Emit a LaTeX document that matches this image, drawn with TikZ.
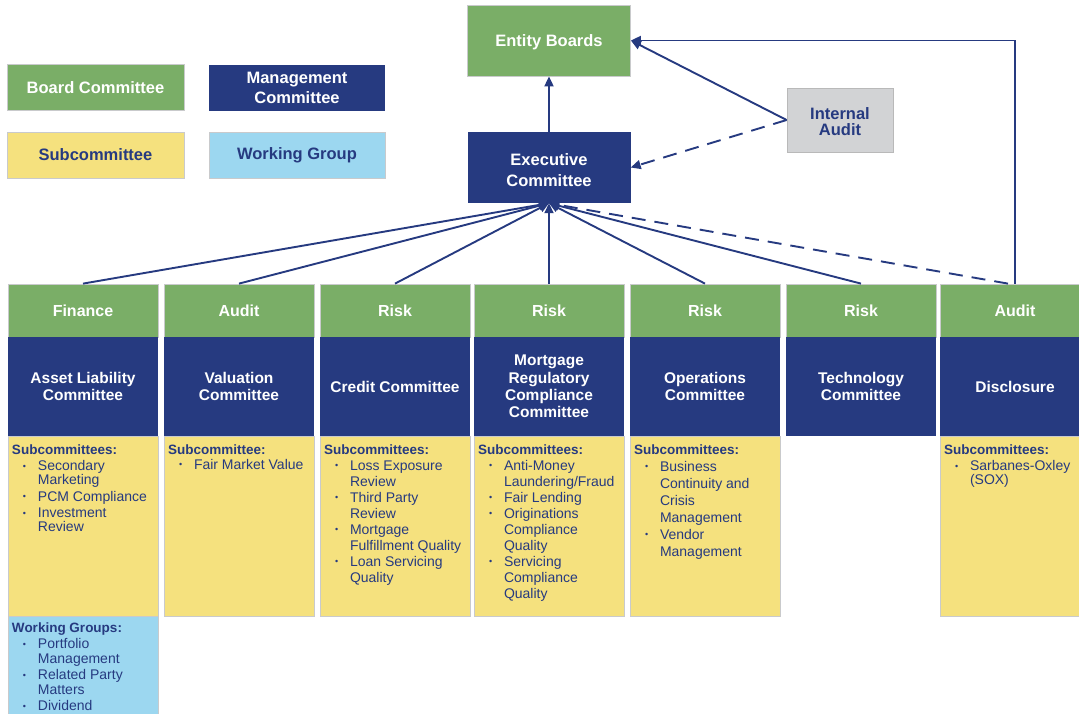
\documentclass[tikz,border=0pt]{standalone}
\usepackage{fontspec}
\setmainfont{Liberation Sans}
\usetikzlibrary{arrows.meta,positioning,calc}

\definecolor{boardgreen}{HTML}{7AAE67}
\definecolor{mgmtnavy}{HTML}{263A80}
\definecolor{subyellow}{HTML}{F5E17E}
\definecolor{wgblue}{HTML}{9CD7F0}
\definecolor{auditgray}{HTML}{D2D3D5}
\definecolor{edgegray}{HTML}{C9CACC}

% list boxes: height, line skip, item skip, content
\newcommand{\sublist}[4]{\begin{minipage}[t][#1][t]{142pt}\raggedright\let\\\newline\fontsize{14}{#2}\selectfont\setlength{\parskip}{#3}#4\end{minipage}}
\newcommand{\subhead}[1]{{\fontsize{13.5}{16}\selectfont\bfseries #1\par}}
\newcommand{\bitem}[1]{\par\hangindent=26pt\hangafter=1\noindent\hspace*{11pt}\makebox[15pt][l]{\raisebox{1.5pt}{\fontsize{9}{9}\selectfont\textbullet}}#1}

\begin{document}
\begin{tikzpicture}[x=1pt,y=-1pt]
  \tikzstyle{board}=[rectangle, draw=edgegray, line width=0.8pt, fill=boardgreen, text=white, font=\fontsize{16.5}{19}\selectfont\bfseries, align=center, inner sep=0pt]
  \tikzstyle{mgmt}=[rectangle, fill=mgmtnavy, text=white, font=\fontsize{16.5}{20}\selectfont\bfseries, align=center, inner sep=0pt]
  \tikzstyle{hdr}=[board, minimum width=150pt, minimum height=53pt, font=\fontsize{16}{18}\selectfont\bfseries]
  \tikzstyle{comm}=[mgmt, minimum width=150pt, minimum height=99pt, font=\fontsize{15.5}{17.3}\selectfont\bfseries]
  \tikzstyle{subbox}=[rectangle, draw=edgegray, line width=0.8pt, fill=subyellow, text=mgmtnavy, anchor=north, inner xsep=4pt, inner ysep=8pt]
  \tikzstyle{wgbox}=[subbox, fill=wgblue]
  \tikzstyle{conn}=[draw=mgmtnavy, line width=1.9pt, -{Triangle[length=10pt,width=9pt]}]
  \tikzstyle{dashconn}=[conn, dash pattern=on 14pt off 9pt]

  \useasboundingbox (0,0) rectangle (1079,713);
  \clip (0,0) rectangle (1079,713);

  % legend
  \node[board, minimum width=177pt, minimum height=46pt] (legboard) at (95.5,87.5) {Board Committee};
  \node[mgmt, minimum width=176pt, minimum height=46pt] (legmgmt) at (297,88) {Management\\Committee};
  \node[subbox, anchor=center, minimum width=177pt, minimum height=46pt, font=\fontsize{16.5}{19}\selectfont\bfseries] (legsub) at (95.5,155) {Subcommittee};
  \node[wgbox, anchor=center, minimum width=176pt, minimum height=46pt, font=\fontsize{16.5}{19}\selectfont\bfseries] (legwg) at (297,155) {Working Group};

  % top of the tree
  \node[board, minimum width=163pt, minimum height=71pt, text depth=0pt] (entity) at (549,40.5) {Entity Boards};
  \node[mgmt, minimum width=163pt, minimum height=71pt, font=\fontsize{16.5}{21}\selectfont\bfseries] (exec) at (549,167.5) {\rule{0pt}{0pt}\\[-4pt]Executive\\Committee};
  \node[rectangle, draw=gray!55, line width=0.8pt, fill=auditgray, text=mgmtnavy, minimum width=106pt, minimum height=64pt, inner sep=0pt, font=\fontsize{16.5}{16}\selectfont\bfseries, align=center] (audit) at (840,120) {\rule{0pt}{0pt}\\Internal\\Audit};

  % committees
  \node[hdr] (finhdr) at (83,310.5) {Finance};
  \node[comm] (alco) at (83,386.5) {Asset Liability\\Committee};
  \node[subbox] (alcosub) at (83,436) {\sublist{164pt}{14pt}{2.5pt}{\subhead{Subcommittees:}\bitem{Secondary\\Marketing}\bitem{PCM Compliance}\bitem{Investment\\Review}}};
  \node[wgbox, inner ysep=6pt] (alcowg) at (83,616) {\sublist{100pt}{14.5pt}{2pt}{\subhead{Working Groups:}\bitem{Portfolio\\Management}\bitem{Related Party\\Matters}\bitem{Dividend}}};

  \node[hdr] (valhdr) at (239,310.5) {Audit};
  \node[comm] (valco) at (239,386.5) {Valuation\\Committee};
  \node[subbox] (valsub) at (239,436) {\sublist{164pt}{15pt}{0pt}{\subhead{Subcommittee:}\bitem{Fair Market Value}}};

  \node[hdr] (credhdr) at (395,310.5) {Risk};
  \node[comm] (credco) at (395,386.5) {Credit Committee};
  \node[subbox] (credsub) at (395,436) {\sublist{164pt}{16pt}{0pt}{\subhead{Subcommittees:}\bitem{Loss Exposure\\Review}\bitem{Third Party\\Review}\bitem{Mortgage\\Fulfillment Quality}\bitem{Loan Servicing\\Quality}}};

  \node[hdr] (morthdr) at (549,310.5) {Risk};
  \node[comm] (mortco) at (549,386.5) {Mortgage\\Regulatory\\Compliance\\Committee};
  \node[subbox] (mortsub) at (549,436) {\sublist{164pt}{16pt}{0pt}{\subhead{Subcommittees:}\bitem{Anti-Money\\Laundering/Fraud}\bitem{Fair Lending}\bitem{Originations\\Compliance\\Quality}\bitem{Servicing\\Compliance\\Quality}}};

  \node[hdr] (opshdr) at (705,310.5) {Risk};
  \node[comm] (opsco) at (705,386.5) {Operations\\Committee};
  \node[subbox] (opssub) at (705,436) {\sublist{164pt}{17pt}{0pt}{\subhead{Subcommittees:}\bitem{Business\\Continuity and\\Crisis\\Management}\bitem{Vendor\\Management}}};

  \node[hdr] (techhdr) at (861,310.5) {Risk};
  \node[comm] (techco) at (861,386.5) {Technology\\Committee};

  \node[hdr] (dischdr) at (1015,310.5) {Audit};
  \node[comm] (discco) at (1015,386.5) {Disclosure};
  \node[subbox] (discsub) at (1015,436) {\sublist{164pt}{14pt}{2.5pt}{\subhead{Subcommittees:}\bitem{Sarbanes-Oxley\\(SOX)}}};

  % reporting lines
  \draw[conn] (exec) -- (entity);
  \draw[conn] (audit.west) -- (entity.east);
  \draw[dashconn] (audit.west) -- (exec.east);
  \draw[conn] (finhdr.north) -- (exec.south);
  \draw[conn] (valhdr.north) -- (exec.south);
  \draw[conn] (credhdr.north) -- (exec.south);
  \draw[conn] (morthdr.north) -- (exec.south);
  \draw[conn] (opshdr.north) -- (exec.south);
  \draw[conn] (techhdr.north) -- (exec.south);
  \draw[dashconn] ([xshift=-7pt]dischdr.north) -- (exec.south);
  \draw[conn] (dischdr.north) |- (entity.east);
\end{tikzpicture}
\end{document}
